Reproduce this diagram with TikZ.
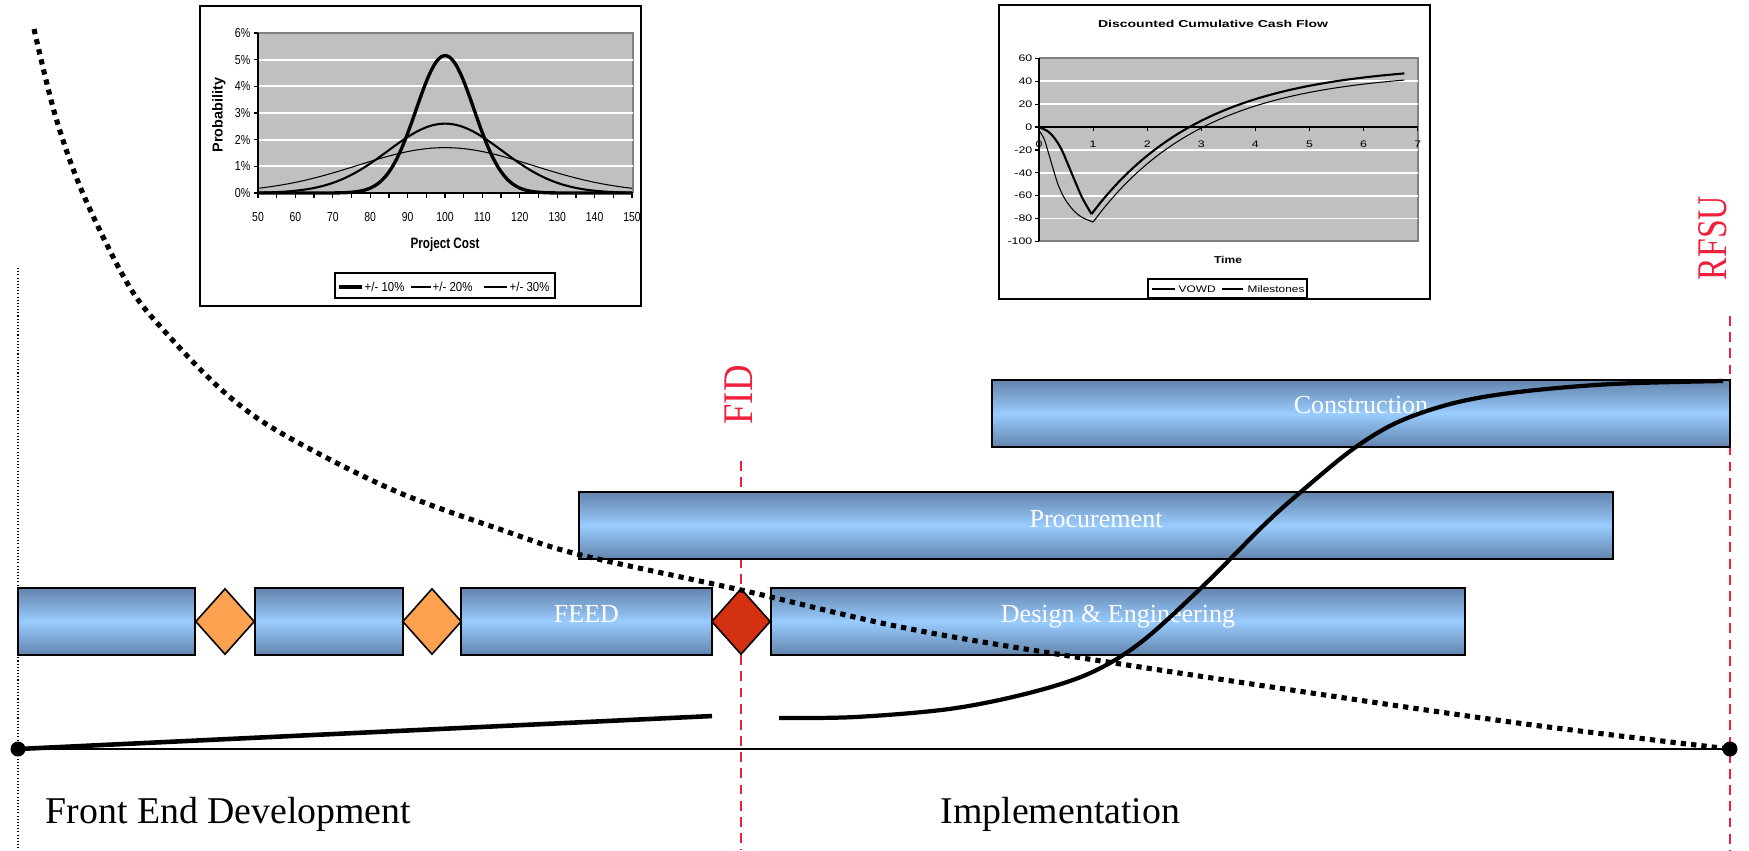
\documentclass[tikz,border=0pt]{standalone}
\usepackage{fontspec}
\usepackage{graphicx}
\setmainfont{Liberation Serif}
\newfontfamily\chartsans{Liberation Sans}
\usetikzlibrary{shapes.geometric}
\definecolor{boxdark}{HTML}{6384AC}
\definecolor{boxlight}{HTML}{99CCFF}
\definecolor{gateorange}{HTML}{FBA150}
\definecolor{gatered}{HTML}{D43012}
\definecolor{fidred}{HTML}{F0203C}
\definecolor{plotgray}{HTML}{C0C0C0}
\newcommand\myfs[1]{\fontsize{#1}{#1}\selectfont}
\newcommand\sx[2]{\scalebox{#1}[1]{#2}}
\begin{document}
\begin{tikzpicture}[x=0.01cm, y=-0.01cm,
  phase/.style={draw=black, line width=0.65pt, rectangle, inner sep=0pt,
    minimum height=0.67cm, top color=boxdark, bottom color=boxdark, middle color=boxlight},
  gate/.style={draw=black, line width=0.45pt, diamond, inner sep=0pt,
    minimum width=0.59cm, minimum height=0.66cm, fill=gateorange},
  phlabel/.style={text=white, font=\myfs{7.4pt}, anchor=base, inner sep=0pt},
  bigtext/.style={font=\myfs{10.75pt}, anchor=base west, inner sep=0pt},
  milestone/.style={text=fidred, font=\myfs{12pt}, rotate=90, inner sep=0pt},
  reddash/.style={draw=fidred, line width=0.45pt, dash pattern=on 2.8pt off 1.8pt},
  dotnode/.style={circle, fill=black, inner sep=0pt, minimum size=0.15cm},
  sqdots/.style={line width=1.45pt, dash pattern=on 1.5pt off 1.45pt},
  ccurve/.style={line width=1.2pt, line cap=butt},
  ca/.style={font=\chartsans\myfs{3.7pt}, inner sep=0pt},
  cb/.style={font=\chartsans\myfs{2.7pt}, inner sep=0pt},
]
\useasboundingbox (0,0) rectangle (1749,850);
\fill[white] (0,0) rectangle (1749,850);

%================ Chart 1 =================
\draw[line width=0.45pt] (200,6) rectangle (641,306);
\fill[plotgray] (258,33) rectangle (633,193);
\draw[gray, line width=0.3pt] (258,33) -- (633,33) -- (633,193);
\foreach \k in {1,...,5}
  \draw[white, line width=0.5pt] (258,{193-26.67*\k}) -- (633,{193-26.67*\k});
\draw[line width=0.4pt] (258,33) -- (258,193) -- (633,193);
\foreach \k in {0,...,6}
  \draw[line width=0.35pt] (254,{193-26.67*\k}) -- (258,{193-26.67*\k});
\foreach \k in {0,...,20}
  \draw[line width=0.35pt] ({258+18.7*\k},193) -- ({258+18.7*\k},198);
\foreach \k in {0,...,6}
  \node[ca, anchor=east] (c1y\k) at (251,{193-26.67*\k}) {\sx{0.82}{\k\%}};
\foreach \k in {0,...,10}{
  \pgfmathtruncatemacro\lab{50+10*\k}
  \node[ca] (c1x\k) at ({258+37.4*\k},217) {\sx{0.8}{\lab}};
}
\node[ca, font=\chartsans\bfseries\myfs{4.1pt}, rotate=90] (c1ylab) at (219,115) {Probability};
\node[ca, font=\chartsans\bfseries\myfs{4.27pt}] (c1xlab) at (445,245) {\sx{0.78}{Project Cost}};
\begin{scope}[shift={(258,193)}, x=0.0374cm, y=0.2667cm]
  \draw[line width=0.3pt] plot[domain=0:100, samples=101, smooth] (\x, {1.7*exp(-((\x-50)^2)/1104.5)});
  \draw[line width=0.6pt] plot[domain=0:100, samples=101, smooth] (\x, {2.6*exp(-((\x-50)^2)/468.2)});
  \draw[line width=0.95pt] plot[domain=0:100, samples=101, smooth] (\x, {5.15*exp(-((\x-50)^2)/120.1)});
\end{scope}
% legend
\draw[line width=0.4pt] (335,273) rectangle (555,298);
\draw[line width=0.95pt] (339,287) -- (362,287);
\node[ca, anchor=west] (l1) at (364,287) {\sx{0.88}{+/- 10\%}};
\draw[line width=0.6pt] (411,287) -- (431,287);
\node[ca, anchor=west] (l2) at (432,287) {\sx{0.88}{+/- 20\%}};
\draw[line width=0.3pt] (484,287) -- (507,287);
\node[ca, anchor=west] (l3) at (509,287) {\sx{0.88}{+/- 30\%}};

%================ Chart 2 =================
\draw[line width=0.45pt] (999,5) rectangle (1430,299);
\node[cb, font=\chartsans\bfseries\myfs{2.85pt}] (c2title) at (1213,24) {\sx{1.4}{Discounted Cumulative Cash Flow}};
\fill[plotgray] (1039,58) rectangle (1418,241);
\draw[gray, line width=0.3pt] (1039,58) -- (1418,58) -- (1418,241) -- (1039,241);
\foreach \v in {40,20,-20,-40,-60,-80}
  \draw[white, line width=0.5pt] (1039,{127-1.144*\v}) -- (1418,{127-1.144*\v});
\draw[line width=0.4pt] (1039,58) -- (1039,241);
\draw[line width=0.4pt] (1039,127) -- (1418,127);
\foreach \v in {60,40,...,-100}{
  \draw[line width=0.35pt] (1035,{127-1.144*\v}) -- (1039,{127-1.144*\v});
  \node[cb, anchor=east] (c2y\v) at (1033,{127-1.144*\v}) {\sx{1.3}{\v}};
}
\foreach \t in {0,...,7}{
  \draw[line width=0.35pt] ({1039+54.1*\t},127) -- ({1039+54.1*\t},131);
  \node[cb] (c2x\t) at ({1039+54.1*\t},144) {\sx{1.3}{\t}};
}
\node[cb, font=\chartsans\bfseries\myfs{2.85pt}] (c2xlab) at (1228,260) {\sx{1.2}{Time}};
\begin{scope}[shift={(1039,127)}, x=0.541cm, y=0.01144cm]
  \draw[line width=0.6pt] plot[smooth, tension=0.5] coordinates {(0,0) (0.17,-4) (0.29,-10) (0.42,-20) (0.6,-40) (0.79,-61) (0.97,-76)};
  \draw[line width=0.6pt] plot[domain=0.97:6.75, samples=60, smooth] (\x, {55-131*exp(-(\x-0.97)/2.085)});
  \draw[line width=0.3pt] plot[smooth, tension=0.5] coordinates {(0,-3) (0.1,-11) (0.22,-30) (0.35,-50) (0.48,-63) (0.64,-73) (0.8,-79) (1,-83)};
  \draw[line width=0.3pt] plot[domain=1:6.75, samples=60, smooth] (\x, {49-132*exp(-(\x-1)/2.05)});
\end{scope}
\draw[line width=0.4pt] (1148,279) rectangle (1307,298);
\draw[line width=0.6pt] (1152,289) -- (1175,289);
\node[cb, anchor=west] (lv) at (1178,289) {\sx{1.25}{VOWD}};
\draw[line width=0.3pt] (1222,289) -- (1243,289);
\node[cb, anchor=west] (lm) at (1247,289) {\sx{1.25}{Milestones}};

%================ Guide lines =================
\draw[line width=0.4pt, dash pattern=on 0.3pt off 0.6pt] (18,268) -- (18,850);
\coordinate (fidtop) at (741,461);
\coordinate (fidbot) at (741,850);
\coordinate (rfsutop) at (1730,316);
\coordinate (rfsubot) at (1730,850);
\draw[reddash] (fidtop) -- (fidbot);
\draw[reddash] (rfsutop) -- (rfsubot);

%================ Phases =================
\node[phase, minimum width=1.77cm] (p1) at (106.5,621.5) {};
\node[gate] (g1) at (225,621.5) {};
\node[phase, minimum width=1.48cm] (p2) at (329,621.5) {};
\node[gate] (g2) at (432,621.5) {};
\node[phase, minimum width=2.51cm] (feed) at (586.5,621.5) {};
\node[gate, fill=gatered] (fid) at (741,621.5) {};
\node[phase, minimum width=6.94cm] (de) at (1118,621.5) {};
\node[phase, minimum width=10.34cm] (proc) at (1096,525.5) {};
\node[phase, minimum width=7.38cm] (cons) at (1361,413.5) {};
\node[phlabel] (feedl) at (586.5,622) {FEED};
\node[phlabel] (del) at (1118,622) {Design \& Engineering};
\node[phlabel] (procl) at (1096,527) {Procurement};
\node[phlabel] (consl) at (1361,413.5) {Construction};

%================ Timeline =================
\node[dotnode] (startdot) at (18,749) {};
\node[dotnode] (enddot) at (1730,749) {};
\draw[line width=0.55pt] (startdot) -- (enddot);
\coordinate (feedend) at (712,716);
\draw[line width=1.3pt] (startdot.center) -- (feedend);

% S-curve
\coordinate (sstart) at (779,718);
\draw[ccurve] plot[smooth, tension=0.55] coordinates {(sstart) (855,717) (949,709) (1025,694) (1088,674) (1140,643) (1202,587) (1265,524) (1303,490) (1353,449) (1398,422) (1454,403) (1518,392) (1612,384) (1723,381)};

% dotted influence curve
\draw[sqdots] plot[smooth, tension=0.55] coordinates {(34,29) (56,118) (84,196) (129,286) (168,335) (224,392) (281,433) (393,490) (505,531) (581,555) (741,590) (886,624) (1013,647) (1265,686) (1518,723) (enddot.center)};

%================ Texts =================
\node[milestone] (fidlab) at (739,395) {\sx{0.87}{FID}};
\node[milestone] (rfsulab) at (1713,238) {\sx{0.8}{RFSU}};
\node[bigtext] (fed) at (45,823) {Front End Development};
\node[bigtext] (impl) at (940,823) {Implementation};
\end{tikzpicture}
\end{document}
